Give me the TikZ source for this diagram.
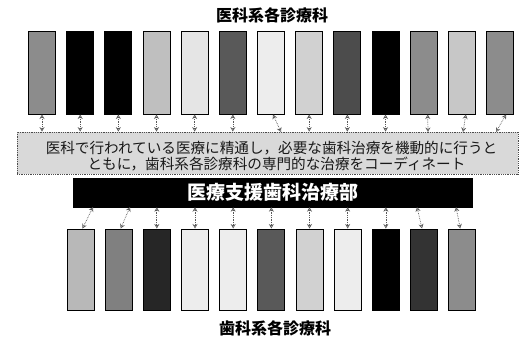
\documentclass[tikz,border=0pt]{standalone}
\usepackage{fontspec}
\newfontfamily\cjk{Noto Sans CJK JP}
\usetikzlibrary{arrows.meta}
\tikzset{
  bar/.style={draw=black, line width=1pt, minimum width=27pt, inner sep=0pt},
  topbar/.style={bar, minimum height=83pt},
  botbar/.style={bar, minimum height=81pt},
  conn/.style={draw=black!65, densely dotted, line width=0.7pt,
    {Stealth[open,length=4.5pt,width=5pt,line width=0.6pt]}-{Stealth[open,length=4.5pt,width=5pt,line width=0.6pt]}},
  title/.style={font=\cjk\bfseries\fontsize{16}{18}\selectfont, inner sep=0pt},
  bandtxt/.style={font=\cjk\fontsize{14.6}{15.5}\selectfont, inner sep=0pt, text=black!90},
}
\begin{document}
\begin{tikzpicture}[x=1pt,y=-1pt]
\useasboundingbox[fill=white] (0,0) rectangle (531,338);
\node[title] (ttop) at (272,15) {医科系各診療科};
\node[title] (tbot) at (275,328) {歯科系各診療科};
% top bars
\foreach \i/\c in {1/black!45,2/black,3/black,4/black!25,5/black!10,6/black!65,7/black!7,8/black!18,9/black!70,10/black,11/black!45,12/black!22,13/black!45}{
  \node[topbar, fill=\c] (t\i) at ({42+38.17*(\i-1)},72.5) {};
}
% bottom bars
\foreach \i/\c in {1/black!28,2/black!50,3/black!85,4/black!7,5/black!7,6/black!65,7/black!18,8/black!7,9/black,10/black!80,11/black!45}{
  \node[botbar, fill=\c] (b\i) at ({80.5+38.17*(\i-1)},269.5) {};
}
% band
\node[draw=black!70, densely dotted, line width=0.8pt, fill=black!15, minimum width=501pt, minimum height=42pt,
  inner sep=0pt] (band) at (267.5,153) {};
\node[bandtxt] (l1) at (271.5,148.5) {医科で行われている医療に精通し，必要な歯科治療を機動的に行うと};
\node[bandtxt] (l2) at (276.5,164) {ともに，歯科系各診療科の専門的な治療をコーディネート};
% black box
\node[fill=black, draw=black, minimum width=399pt, minimum height=29pt, inner sep=0pt,
  text=white, font=\cjk\bfseries\fontsize{19}{20}\selectfont] (dept) at (272.5,192.5) {医療支援歯科治療部};
% top arrows
\foreach \i in {1,...,6,8,9,10}{
  \draw[conn] (t\i.south) -- (t\i.south |- band.north);
}
\coordinate (a7) at (281,132);
\coordinate (a11) at (428,132);
\coordinate (a12) at (463,132);
\coordinate (a13) at (496,132);
\draw[conn] ([xshift=2pt]t7.south) -- (a7);
\draw[conn] ([xshift=4pt]t11.south) -- (a11);
\draw[conn] ([xshift=4pt]t12.south) -- (a12);
\draw[conn] ([xshift=6pt]t13.south) -- (a13);
% bottom arrows
\coordinate (c1) at (93,207);
\coordinate (c2) at (130,207);
\coordinate (c10) at (417,207);
\coordinate (c11) at (456,207);
\draw[conn] (c1) -- ([xshift=2pt]b1.north);
\draw[conn] (c2) -- ([xshift=2pt]b2.north);
\foreach \i in {3,...,9}{
  \draw[conn] (b\i.north |- dept.south) -- (b\i.north);
}
\draw[conn] (c10) -- ([xshift=-2pt]b10.north);
\draw[conn] (c11) -- ([xshift=-2pt]b11.north);
\end{tikzpicture}
\end{document}
